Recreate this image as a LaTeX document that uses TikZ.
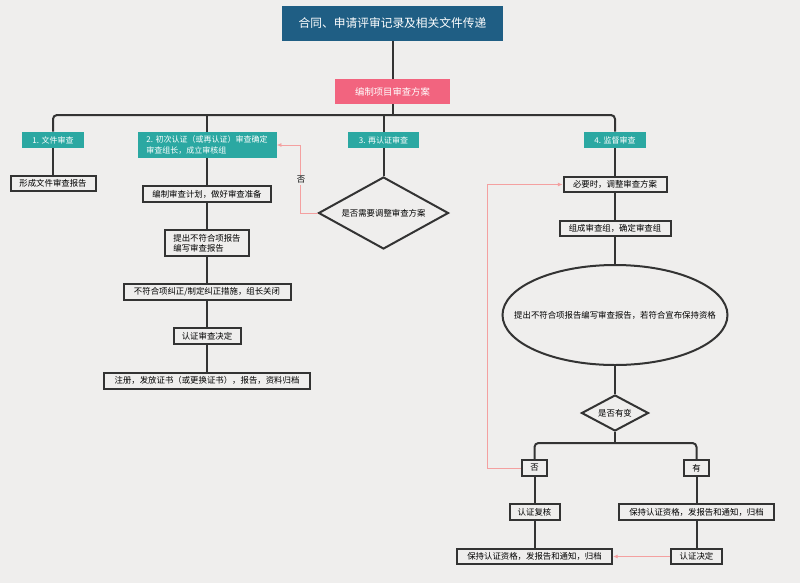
\documentclass[tikz,border=0pt]{standalone}
\usepackage{fontspec}
\setmainfont{Noto Sans CJK SC}
\usetikzlibrary{arrows.meta,shapes.geometric}
\definecolor{bgc}{HTML}{EFEEED}
\definecolor{titlec}{HTML}{1F5E84}
\definecolor{planc}{HTML}{F2647F}
\definecolor{tealc}{HTML}{2BA8A2}
\definecolor{linec}{HTML}{333333}
\definecolor{pinkl}{HTML}{F4A0A0}
\tikzset{
  sz/.style 2 args={minimum width=#1*0.75pt, minimum height=#2*0.75pt},
  stepbox/.style={draw=linec, line width=1.5pt, fill=bgc, inner sep=0pt, font=\fontsize{6.3}{7.6}\selectfont},
  headbox/.style={fill=tealc, text=white, inner sep=0pt, font=\fontsize{6}{7.6}\selectfont},
  conn/.style={draw=linec, line width=1.5pt},
  back/.style={draw=pinkl, line width=0.6pt, -{Latex[length=3.5pt,width=3pt]}},
}
\begin{document}
\begin{tikzpicture}[x=0.75pt,y=-0.75pt]
			%%%%% START %%%%%
			
			\fill[bgc] (0,0) rectangle (800,583);
			
			\node[fill=titlec, text=white, sz={221}{35}, font=\fontsize{8.8}{10}\selectfont] (title) at (392.5, 23.5) {合同、申请评审记录及相关文件传递};
			\node[fill=planc, text=white, sz={115}{25}, font=\fontsize{7}{8}\selectfont] (plan) at (392.5, 91.5) {编制项目审查方案};
			\coordinate (bus) at (392.5, 115);
			
			\node[headbox, sz={62}{16}] (t1) at (53, 140) {1. 文件审查};
			\node[headbox, sz={139}{26}, align=left] (t2) at (207, 145) {2. 初次认证（或再认证）审查确定\\审查组长，成立审核组};
			\node[headbox, sz={71}{16}] (t3) at (383.5, 140) {3. 再认证审查};
			\node[headbox, sz={62}{16}] (t4) at (615, 140) {4. 监督审查};
			
			\node[stepbox, sz={85}{15}] (a1) at (53, 183.5) {形成文件审查报告};
			
			\node[stepbox, sz={128}{16}] (b1) at (207, 194) {编制审查计划，做好审查准备};
			\node[stepbox, sz={84}{26}, align=left] (b2) at (207, 243) {提出不符合项报告\\编写审查报告};
			\node[stepbox, sz={167}{16}] (b3) at (207, 292) {不符合项纠正/制定纠正措施，组长关闭};
			\node[stepbox, sz={67}{16}] (b4) at (207, 336) {认证审查决定};
			\node[stepbox, sz={206}{16}] (b5) at (207, 380.5) {注册，发放证书（或更换证书），报告，资料归档};
			
			\node[stepbox, diamond, sz={130}{72}] (d1) at (383.5, 213) {\makebox[0pt]{是否需要调整审查方案}};
			
			\node[stepbox, sz={103}{15}] (c1) at (615, 184.5) {必要时，调整审查方案};
			\node[stepbox, sz={111}{15}] (c2) at (615, 228.5) {组成审查组，确定审查组};
			\node[stepbox, ellipse, sz={225}{100}] (e1) at (615, 315) {\makebox[0pt]{提出不符合项报告编写审查报告，若符合宣布保持资格}};
			\node[stepbox, diamond, sz={67}{36}] (d2) at (615, 413) {\makebox[0pt]{是否有变}};
			\coordinate (bus2) at (615, 443);
			
			\node[stepbox, sz={25}{16}] (no) at (534.5, 468) {否};
			\node[stepbox, sz={25}{16}] (yes) at (696.5, 468) {有};
			\node[stepbox, sz={50}{16}] (n1) at (534.5, 512) {认证复核};
			\node[stepbox, sz={155}{16}] (y1) at (696.5, 512) {保持认证资格，发报告和通知，归档};
			\node[stepbox, sz={155}{15}] (n2) at (534.5, 556.5) {保持认证资格，发报告和通知，归档};
			\node[stepbox, sz={51}{15}] (y2) at (696.5, 556.5) {认证决定};
			
			\draw[conn] (title) -- (plan);
			\draw[conn] (plan) -- (bus);
			\draw[conn, rounded corners=3pt] (t1.north) |- (bus) -| (t4.north);
			\draw[conn] (t2.north) -- (t2.north |- bus);
			\draw[conn] (t3.north) -- (t3.north |- bus);
			
			\draw[conn] (t1) -- (a1);
			
			\draw[conn] (t2) -- (b1);
			\draw[conn] (b1) -- (b2);
			\draw[conn] (b2) -- (b3);
			\draw[conn] (b3) -- (b4);
			\draw[conn] (b4) -- (b5);
			
			\draw[conn] (t3) -- (d1);
			
			\draw[conn] (t4) -- (c1);
			\draw[conn] (c1) -- (c2);
			\draw[conn] (c2) -- (e1);
			\draw[conn] (e1) -- (d2);
			\draw[conn] (d2) -- (bus2);
			\draw[conn, rounded corners=3pt] (no.north) |- (bus2) -| (yes.north);
			\draw[conn] (no) -- (n1);
			\draw[conn] (n1) -- (n2);
			\draw[conn] (yes) -- (y1);
			\draw[conn] (y1) -- (y2);
			
			\draw[back] (d1.west) -- ++(-17, 0) |- (t2.east);
			\node[fill=bgc, inner sep=1pt, font=\fontsize{6.3}{7.6}\selectfont] (nolab) at (301, 180) {否};
			\draw[back] (no.west) -- ++(-34, 0) |- (c1.west);
			\draw[back] (y2.west) -- (n2.east);
			
			%%%%% END %%%%%
\end{tikzpicture}
\end{document}
